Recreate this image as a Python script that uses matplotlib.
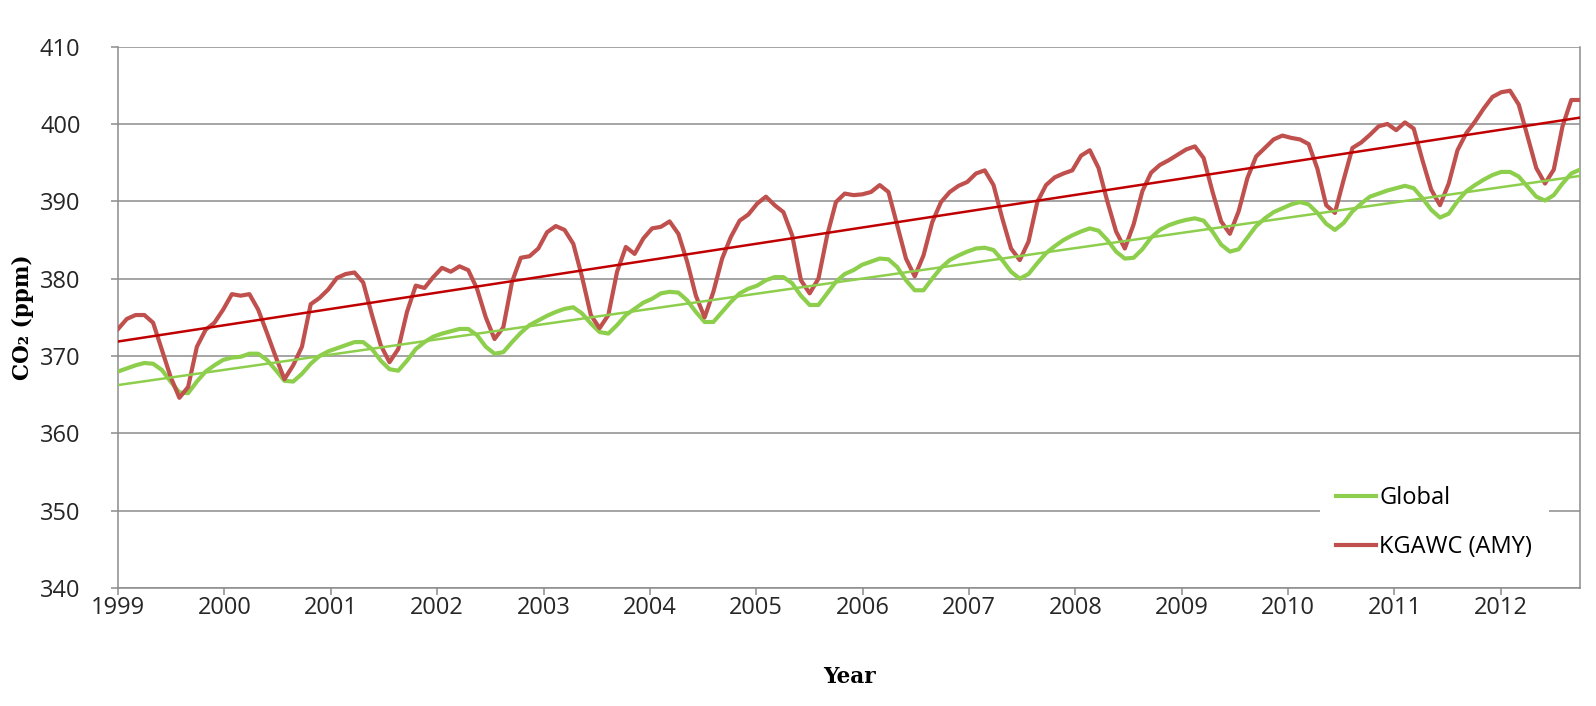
import matplotlib.pyplot as plt
import numpy as np

# monthly CO2 (ppm), Jan 1999 .. Dec 2012
global_co2 = [
    368.0, 368.4, 368.8, 369.1, 369.0, 368.2, 366.7, 365.3, 365.2, 366.7, 368.0, 368.8,
    369.5, 369.8, 369.9, 370.3, 370.3, 369.5, 368.2, 366.8, 366.7, 367.7, 369.0, 370.0,
    370.6, 371.0, 371.4, 371.8, 371.8, 370.9, 369.4, 368.3, 368.1, 369.4, 370.9, 371.8,
    372.5, 372.9, 373.2, 373.5, 373.5, 372.7, 371.2, 370.3, 370.5, 371.8, 373.0, 374.0,
    374.6, 375.2, 375.7, 376.1, 376.3, 375.5, 374.2, 373.1, 372.9, 374.0, 375.3, 376.1,
    376.9, 377.4, 378.1, 378.3, 378.2, 377.2, 375.7, 374.4, 374.4, 375.7, 377.0, 378.1,
    378.7, 379.1, 379.8, 380.2, 380.2, 379.4, 377.8, 376.6, 376.6, 378.1, 379.6, 380.6,
    381.1, 381.8, 382.2, 382.6, 382.5, 381.5, 379.8, 378.5, 378.5, 380.0, 381.4, 382.4,
    383.0, 383.5, 383.9, 384.0, 383.7, 382.4, 380.9, 380.0, 380.6, 382.0, 383.3, 384.2,
    385.0, 385.6, 386.1, 386.5, 386.2, 385.0, 383.5, 382.6, 382.7, 383.8, 385.3, 386.3,
    386.9, 387.3, 387.6, 387.8, 387.5, 386.1, 384.4, 383.5, 383.8, 385.3, 386.8, 387.8,
    388.6, 389.1, 389.6, 389.9, 389.6, 388.5, 387.1, 386.3, 387.2, 388.7, 389.7, 390.6,
    391.0, 391.4, 391.7, 392.0, 391.7, 390.4, 388.9, 387.9, 388.4, 390.0, 391.3, 392.1,
    392.8, 393.4, 393.8, 393.8, 393.2, 391.9, 390.6, 390.1, 390.8, 392.3, 393.6, 394.1,
]

kgawc_co2 = [
    373.5, 374.8, 375.3, 375.3, 374.3, 370.8, 367.3, 364.6, 366.0, 371.2, 373.4, 374.3,
    376.0, 378.0, 377.8, 378.0, 376.0, 373.0, 369.9, 367.0, 368.8, 371.2, 376.7, 377.5,
    378.6, 380.1, 380.6, 380.8, 379.5, 375.3, 371.4, 369.2, 370.9, 375.7, 379.1, 378.8,
    380.2, 381.4, 380.9, 381.6, 381.1, 378.7, 375.0, 372.2, 373.7, 379.6, 382.7, 382.9,
    383.9, 386.0, 386.8, 386.3, 384.5, 380.2, 375.3, 373.6, 375.3, 380.9, 384.1, 383.2,
    385.2, 386.5, 386.7, 387.4, 385.8, 382.2, 377.8, 375.0, 378.3, 382.6, 385.4, 387.5,
    388.3, 389.7, 390.6, 389.5, 388.6, 385.6, 379.8, 378.1, 380.0, 385.6, 389.9, 391.0,
    390.8, 390.9, 391.2, 392.1, 391.2, 386.9, 382.6, 380.3, 383.0, 387.3, 389.9, 391.2,
    392.0, 392.5, 393.6, 394.0, 392.1, 387.8, 383.9, 382.4, 384.8, 389.9, 392.1, 393.1,
    393.6, 394.0, 395.9, 396.6, 394.3, 390.0, 386.1, 383.9, 387.0, 391.3, 393.7, 394.7,
    395.3, 396.0, 396.7, 397.1, 395.6, 391.3, 387.4, 385.8, 388.7, 393.0, 395.8, 396.9,
    398.0, 398.5, 398.2, 398.0, 397.4, 394.2, 389.5, 388.5, 392.8, 396.9, 397.6, 398.6,
    399.7, 400.0, 399.2, 400.2, 399.4, 395.3, 391.5, 389.5, 392.3, 396.6, 398.8, 400.3,
    402.0, 403.5, 404.1, 404.3, 402.5, 398.4, 394.3, 392.3, 394.1, 399.7, 403.1, 403.1,
]

years = list(range(1999, 2013))
labels = ['Global', 'KGAWC (AMY)']

months = np.arange(len(global_co2))

# linear trend lines (like the excel trendline)
g_fit = np.polyval(np.polyfit(months, global_co2, 1), months)
k_fit = np.polyval(np.polyfit(months, kgawc_co2, 1), months)

green = '#8DCF4C'
red = '#C0504D'

plt.figure(figsize=(15.96, 7.06), dpi=100)
ax = plt.axes([0.074, 0.167, 0.916, 0.767])

ax.plot(months, global_co2, color=green, linewidth=3.0, label=labels[0], zorder=3)
ax.plot(months, kgawc_co2, color=red, linewidth=3.0, label=labels[1], zorder=3)
ax.plot(months, g_fit, color=green, linewidth=1.8, zorder=4)
ax.plot(months, k_fit, color='#C00000', linewidth=1.8, zorder=4)

ax.set_xlim(0, len(months) - 1)
ax.set_ylim(340, 410)
ax.set_yticks(range(340, 411, 10))

# the year labels in the original sit a little wider apart than 12 months
ax.set_xticks(np.arange(len(years)) * 12.15)
ax.set_xticklabels([str(y) for y in years])

ax.grid(axis='y', color='#8C8C8C', linewidth=1.1)
ax.set_axisbelow(True)
for s in ax.spines.values():
    s.set_color('#8C8C8C')
    s.set_linewidth(1.1)
ax.spines['top'].set_visible(False)

ax.tick_params(axis='both', colors='#8C8C8C', length=5, width=1.1,
               labelcolor='#262626', labelsize=17)
ax.tick_params(axis='y', pad=22)
ax.tick_params(axis='x', pad=1)
for t in ax.get_xticklabels() + ax.get_yticklabels():
    t.set_fontfamily('Open Sans')

ax.set_xlabel('Year', fontsize=15.5, fontweight='bold', family='DejaVu Serif')
ax.set_ylabel('CO\u2082 (ppm)', fontsize=15.5, fontweight='bold', family='DejaVu Serif')
ax.xaxis.set_label_coords(0.5, -0.143)
ax.yaxis.set_label_coords(-0.0572, 0.5)

leg = ax.legend(loc='upper left', bbox_to_anchor=(0.8218, 0.2185), borderaxespad=0,
                frameon=True, fancybox=False, edgecolor='none', facecolor='white',
                framealpha=1, prop={'family': 'Open Sans', 'size': 17},
                handlelength=1.7, handletextpad=0.13, labelspacing=1.05, borderpad=0.7)
for line in leg.get_lines():
    line.set_linewidth(3)

plt.savefig('out.png', dpi=100)
